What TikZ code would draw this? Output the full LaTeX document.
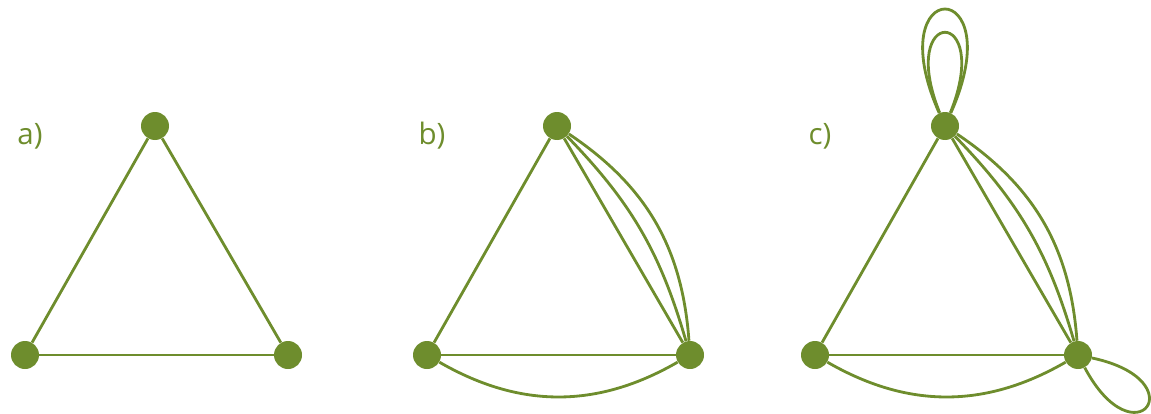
\documentclass[tikz,border=0pt]{standalone}
\usepackage{fontspec}
\setmainfont{Open Sans}
\usepackage{tikz}
\usetikzlibrary{positioning}
\definecolor{leaf}{RGB}{110,141,45}

\begin{document}
\begin{tikzpicture}[
  vert/.style={circle, fill=leaf, inner sep=0pt, minimum size=7mm},
  edge/.style={draw=leaf, line width=2pt},
  lab/.style={text=leaf, font=\fontsize{21}{25}\selectfont}]
\useasboundingbox (0,0) rectangle (28.775,10.325);
% three triangles
\foreach \g/\x in {a/0, b/10.05, c/19.75} {
  \node[vert] (\g top) at (3.875+\x, 7.175) {};
  \node[vert] (\g left) at (0.625+\x, 1.45) {};
  \node[vert] (\g right) at (7.2+\x, 1.45) {};
  \node[lab] (\g lab) at (0.75+\x, 6.93) {\g)};
  \draw[edge] (\g top) -- (\g left);
  \draw[edge] (\g top) -- (\g right);
  \draw[edge] (\g left) -- (\g right);
}
% multiple edges
\foreach \g in {b, c} {
  \draw[edge] (\g top) to[bend left=14] (\g right);
  \draw[edge] (\g top) to[bend left=26] (\g right);
  \draw[edge] (\g left) to[bend right=30] (\g right);
}
% loops
\draw[edge] (ctop) .. controls +(114:4.15) and +(66:4.15) .. (ctop);
\draw[edge] (ctop) .. controls +(112:3.25) and +(68:3.25) .. (ctop);
\draw[edge] (cright) .. controls +(-12:3.05) and +(-62:3.05) .. (cright);
\end{tikzpicture}
\end{document}
